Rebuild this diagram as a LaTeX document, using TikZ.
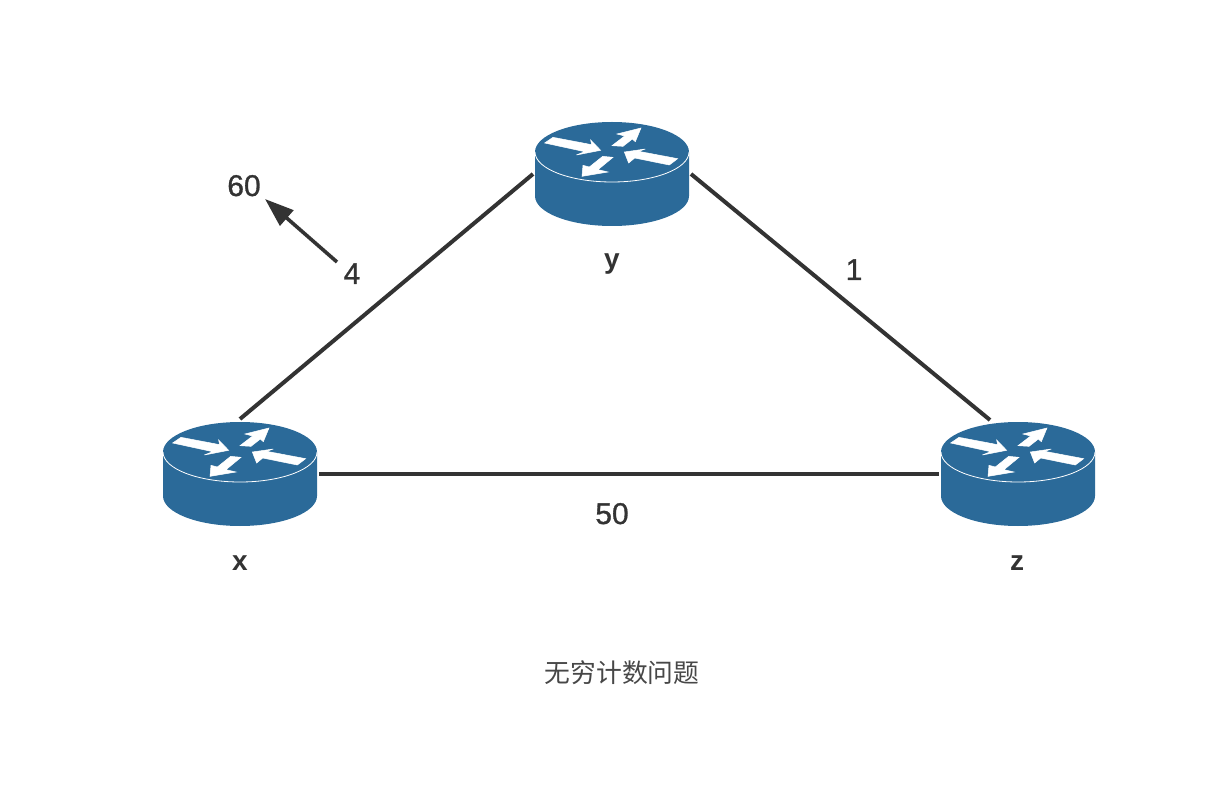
\documentclass[tikz,border=0pt]{standalone}
\usepackage{fontspec}
\setmainfont{Liberation Sans}
\newfontfamily\cjkfont{Noto Sans CJK SC}
\newfontfamily\digitfont[FakeBold=1]{Liberation Sans}
\usetikzlibrary{arrows.meta}
\definecolor{routerblue}{HTML}{2B6A99}
\definecolor{ink}{HTML}{333333}
\tikzset{
  x=1pt,y=-1pt,
  routerbox/.style={minimum width=158pt,minimum height=110pt,inner sep=0pt,outer sep=0pt},
  link/.style={draw=ink,line width=4pt},
  count/.style={text=ink,font=\digitfont\fontsize{30}{30}\selectfont,anchor=base,inner sep=0pt},
  hostname/.style={text=ink,font=\bfseries\fontsize{28}{28}\selectfont,anchor=base,inner sep=0pt},
  caption/.style={text=ink!90,font=\cjkfont\fontsize{25.8}{26}\selectfont,inner sep=0pt},
  update/.style={draw=ink,line width=3.6pt,-{Triangle[length=29pt,width=20pt]},shorten >=0pt},
  pics/router/.style={code={
    % body: side wall and both rims of the disc
    \fill[routerblue] (-77,-22) -- (-77,22) arc[start angle=180,end angle=0,x radius=77,y radius=30]
      -- (77,-22) arc[start angle=0,end angle=-180,x radius=77,y radius=30] -- cycle;
    \draw[white,line width=0.8pt] (-77,-22) arc[start angle=180,end angle=0,x radius=77,y radius=30];
    % four arrows on the top face, traced in thirds of a pixel from the disc centre
    \begin{scope}[x=0.3333pt,y=-0.3333pt,shift={(-277,-193)},fill=white,draw=white,line width=0.5pt,line join=miter]
      \filldraw (75,100) -- (100,83) -- (216,105) -- (213,91) -- (243,122) -- (170,136) -- (195,126) -- cycle;
      \filldraw (277,108) -- (315,79) -- (292,73) -- (364,55) -- (347,96) -- (338,88) -- (310,110) -- cycle;
      \filldraw (314,127) -- (377,118) -- (357,125) -- (474,147) -- (449,166) -- (345,145) -- (327,160) -- cycle;
      \filldraw (187,200) -- (190,167) -- (209,172) -- (249,140) -- (280,143) -- (235,180) -- (265,187) -- cycle;
    \end{scope}
  }},
}
\begin{document}
\begin{tikzpicture}
  \useasboundingbox (0,0) rectangle (1232,802);

  % routers
  \node[routerbox] (x) at (240,474) {};
  \node[routerbox] (y) at (612,174) {};
  \node[routerbox] (z) at (1018,474) {};
  \coordinate (zroof) at (990,420);
  \coordinate (xroof) at (240,419);
  \pic at (x.center) {router};
  \pic at (y.center) {router};
  \pic at (z.center) {router};

  % links
  \draw[link] (xroof) -- (y.west);
  \draw[link] (y.east) -- (zroof);
  \draw[link] (x.east) -- (z.west);

  % labels
  \node[hostname] (xname) at (240,570) {x};
  \node[hostname] (yname) at (612,269) {y};
  \node[hostname] (zname) at (1017,570) {z};
  \node[count] (costxz) at (612,524) {50};
  \node[count] (costyz) at (854,280) {1};
  \node[count] (costxy) at (352,284) {4};
  \node[count] (costnew) at (244,196) {60};
  \node[caption] (title) at (622,673) {无穷计数问题};

  % cost change on the x-y link
  \coordinate (oldcost) at (337,262);
  \coordinate (newcost) at (265,199);
  \draw[update] (oldcost) -- (newcost);
\end{tikzpicture}
\end{document}
